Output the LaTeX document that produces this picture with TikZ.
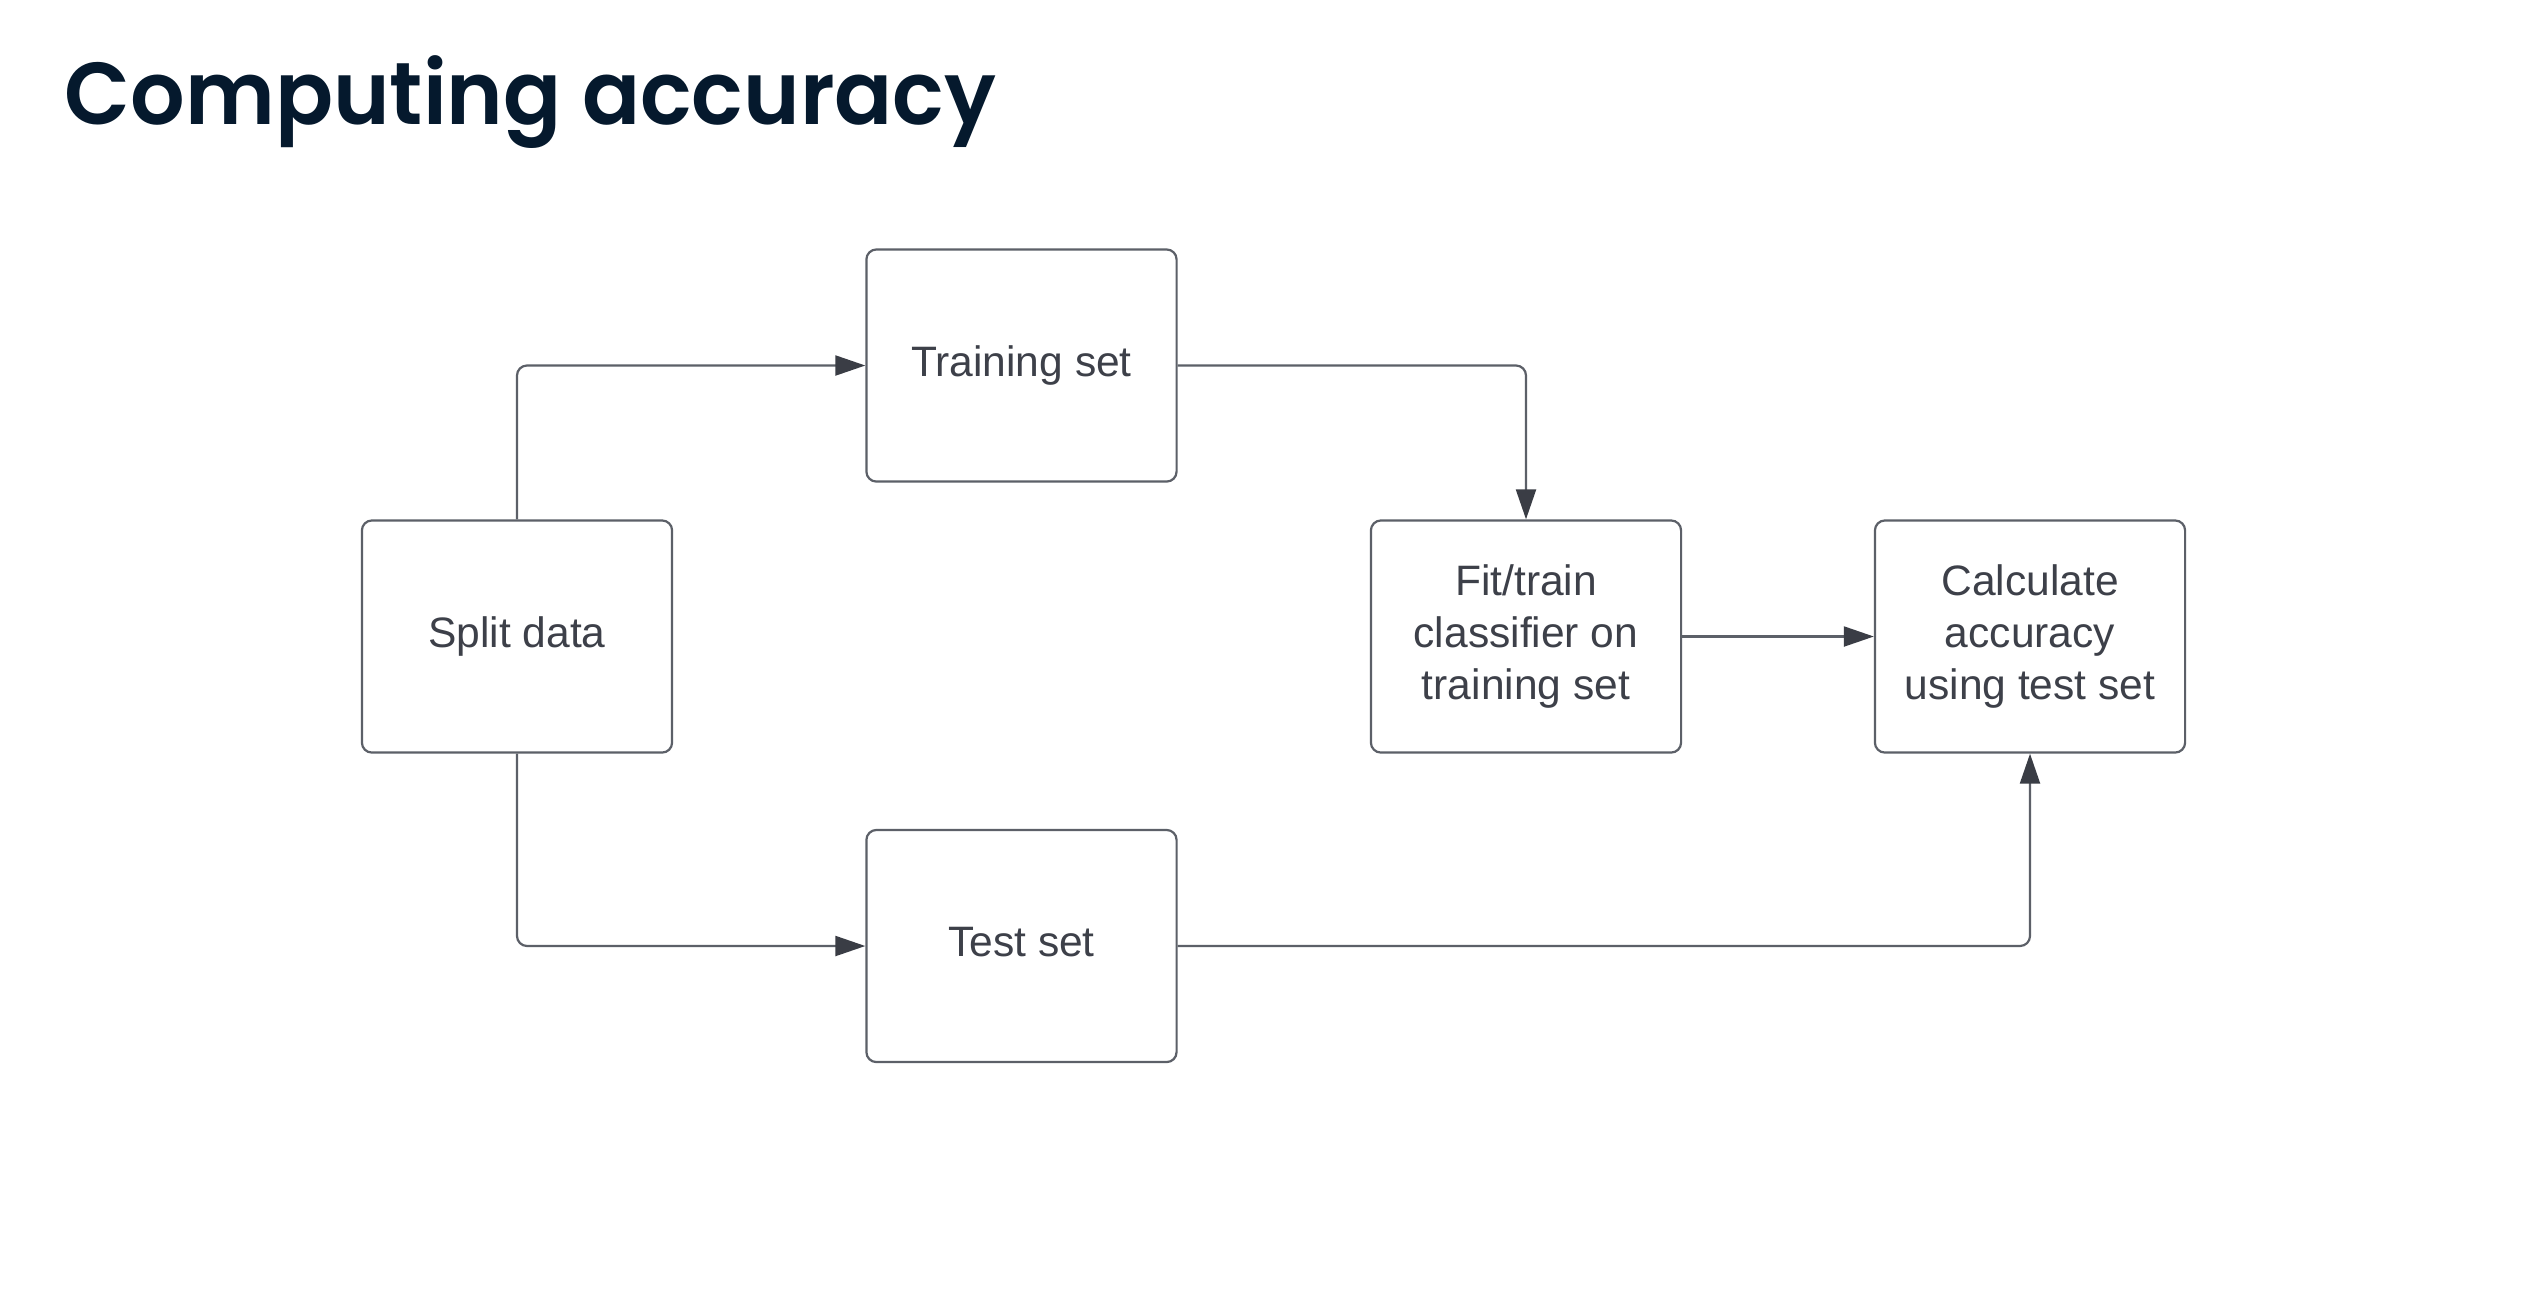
\documentclass[tikz,border=0pt]{standalone}
\usepackage{fontspec}
\setmainfont{Liberation Sans}
\newfontfamily\titlefont{Poppins}[UprightFont={* SemiBold}, FakeStretch=0.975]
\usetikzlibrary{arrows.meta}
\definecolor{titlec}{HTML}{05192D}
\definecolor{linec}{HTML}{5C6068}
\definecolor{arrowc}{HTML}{3A3D45}
\definecolor{textc}{HTML}{3D4049}
\tikzset{
  stepbox/.style={draw=linec, line width=0.022cm, rounded corners=0.1cm,
    minimum width=3.1cm, minimum height=2.32cm, inner sep=0pt, align=center,
    text=textc, font=\fontsize{12.1pt}{14.8pt}\selectfont},
  conn/.style={draw=linec, line width=0.022cm, rounded corners=0.1cm,
    -{Triangle[length=0.3cm,width=0.2cm,color=arrowc]}},
}
\begin{document}
\begin{tikzpicture}[x=0.01cm,y=-0.01cm]
\useasboundingbox[fill=white] (0,0) rectangle (2548,1296);
\node[anchor=base west, text=titlec, inner sep=0pt,
  font=\titlefont\fontsize{25pt}{30pt}\selectfont] (title) at (64,124.3) {Computing accuracy};
\node[stepbox] (split) at (517,636.5) {Split data};
\node[stepbox] (train) at (1021.5,365.5) {Training set};
\node[stepbox] (test) at (1021.5,946) {Test set\vphantom{g}};
\node[stepbox] (fit) at (1526,636.5) {Fit/train\\classifier on\\training set};
\node[stepbox] (calc) at (2030,636.5) {Calculate\\accuracy\\using test set};
\draw[conn] (split.north) |- (train.west);
\draw[conn] (train.east) -| (fit.north);
\draw[conn] (fit.east) -- (calc.west);
\draw[conn] (split.south) |- (test.west);
\draw[conn] (test.east) -| (calc.south);
\end{tikzpicture}
\end{document}
